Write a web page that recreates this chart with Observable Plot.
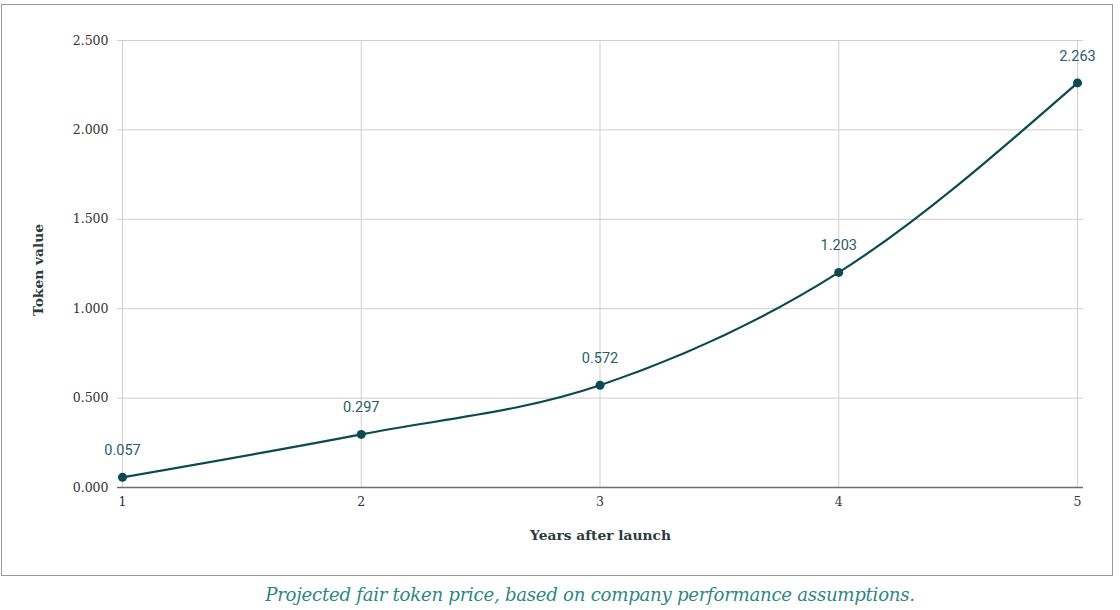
<!DOCTYPE html>
<html>
<head>
<meta charset="utf-8">
<script src="https://cdn.jsdelivr.net/npm/d3@7"></script>
<script src="https://cdn.jsdelivr.net/npm/@observablehq/plot@0.6"></script>
<style>
  html, body { margin: 0; padding: 0; background: #fff; width: 1120px; height: 610px; overflow: hidden; }
  #box { position: absolute; left: 1px; top: 4px; width: 1110px; height: 570px; border: 1px solid #9a9a9a; }
  #chart { position: absolute; left: 0; top: 0; }
  #caption { position: absolute; left: 0; top: 584px; width: 1180px; text-align: center;
    font-family: "DejaVu Serif", Georgia, serif; font-style: italic; font-size: 18.2px; color: #2e8784; letter-spacing: -0.3px; }
</style>
</head>
<body>
<div id="box"></div>
<div id="chart"></div>
<div id="caption">Projected fair token price, based on company performance assumptions.</div>
<script>
const years = [1, 2, 3, 4, 5];
const values = [0.057, 0.297, 0.572, 1.203, 2.263];
const yTicks = [0, 0.5, 1, 1.5, 2, 2.5];
const xLabel = "Years after launch";
const yLabel = "Token value";

const data = years.map((y, i) => ({year: y, value: values[i]}));
const lineColor = "#0c4a52";
const fmt = d3.format(".3f");
const serif = "'DejaVu Serif', Georgia, serif";

const chart = Plot.plot({
  width: 1120,
  height: 575,
  marginLeft: 117,
  marginRight: 37,
  marginTop: 40,
  marginBottom: 88,
  style: {fontFamily: serif, fontSize: "12.5px", color: "#333", background: "transparent"},
  x: {domain: [1, 5], insetLeft: 5, insetRight: 6, ticks: years, tickFormat: d => String(d), label: null},
  y: {domain: [0, 2.5], ticks: yTicks, tickFormat: fmt, label: null},
  marks: [
    Plot.gridY(yTicks, {stroke: "#cfcfcf", strokeOpacity: 1, strokeWidth: 1}),
    Plot.gridX(years, {stroke: "#cfcfcf", strokeOpacity: 1, strokeWidth: 1}),
    Plot.axisY(yTicks, {tickSize: 0, tickPadding: 9, tickFormat: fmt, fontSize: 12.5, fill: "#333", label: null}),
    Plot.axisX(years, {tickSize: 0, tickPadding: 10, tickFormat: d => String(d), fontSize: 12.5, fill: "#333", label: null}),
    Plot.ruleY([0], {stroke: "#6e6e6e", strokeWidth: 1.5}),
    Plot.line(data, {x: "year", y: "value", stroke: lineColor, strokeWidth: 2.2, curve: "monotone-x"}),
    Plot.dot(data, {x: "year", y: "value", r: 4.5, fill: lineColor, stroke: "none"}),
    Plot.text(data, {x: "year", y: "value", text: d => fmt(d.value), dy: -27, fill: "#2b5e68",
      fontFamily: "Roboto, 'Noto Sans', sans-serif", fontSize: 14.5}),
    Plot.text([xLabel], {frameAnchor: "bottom", dy: 52, fontWeight: "bold", fontSize: 13.8, fill: "#2c3a3d",
      fontFamily: serif}),
    Plot.text([yLabel], {frameAnchor: "left", textAnchor: "middle", dx: -79, dy: 6, rotate: -90, fontWeight: "bold", fontSize: 13.8, fill: "#2c3a3d",
      fontFamily: serif})
  ]
});
document.getElementById("chart").appendChild(chart);
</script>
</body>
</html>
